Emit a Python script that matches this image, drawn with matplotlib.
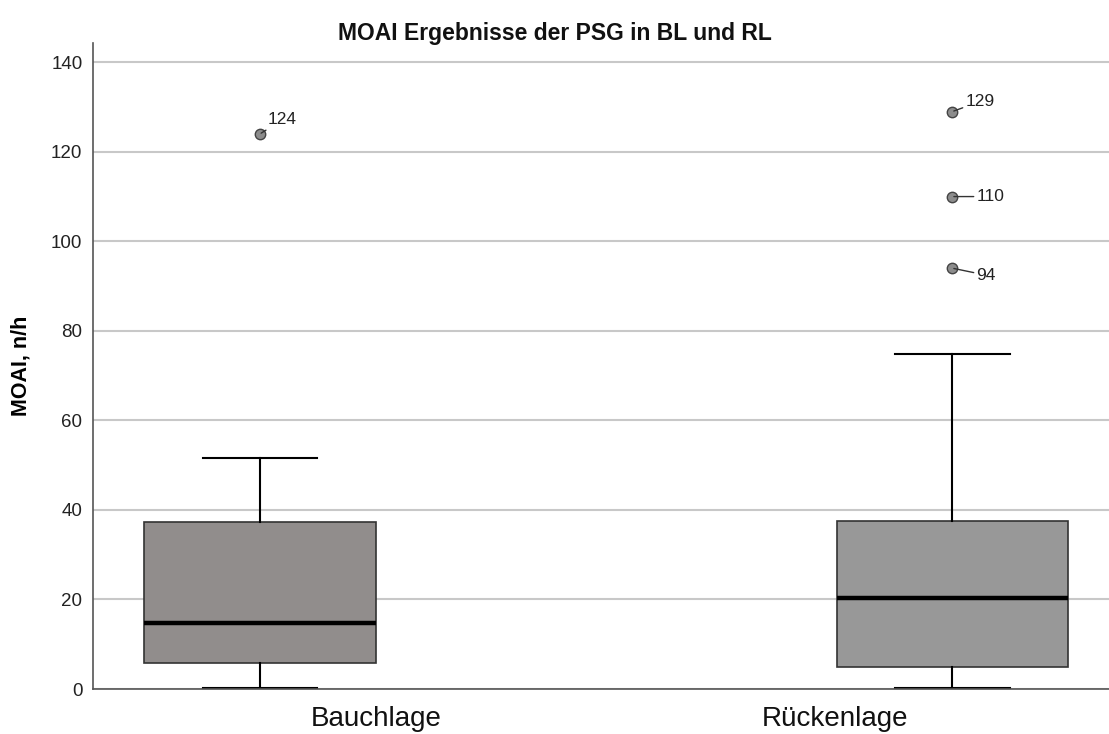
import matplotlib
matplotlib.use('Agg')
from matplotlib import pyplot as plt
from matplotlib.transforms import ScaledTranslation

plt.rcParams['font.family'] = ['Liberation Sans', 'DejaVu Sans']

# Kennwerte der Boxplots (MOAI, n/h)
lagen = ['Bauchlage', 'Rückenlage']
q1 = [5.7, 4.9]
median = [14.8, 20.3]
q3 = [37.2, 37.5]
whis_lo = [0.2, 0.2]
whis_hi = [51.7, 74.8]
ausreisser = [[124], [129, 110, 94]]
box_farben = ['#918d8c', '#989898']

stats = []
for i in range(len(lagen)):
    stats.append({'q1': q1[i], 'med': median[i], 'q3': q3[i],
                  'whislo': whis_lo[i], 'whishi': whis_hi[i],
                  'fliers': ausreisser[i], 'label': lagen[i]})

fig = plt.figure(figsize=(11.09, 7.34), dpi=100)
ax = fig.add_axes([0.0843, 0.0613, 0.9157, 0.8801])

pos = [1, 2]
bp = ax.bxp(stats, positions=pos, widths=0.334, patch_artist=True,
            showfliers=True,
            boxprops={'edgecolor': '#333333', 'linewidth': 1.2},
            medianprops={'color': 'black', 'linewidth': 3.2},
            whiskerprops={'color': 'black', 'linewidth': 1.5},
            capprops={'color': 'black', 'linewidth': 1.5},
            capwidths=0.165,
            flierprops={'marker': 'o', 'markersize': 7.5,
                        'markerfacecolor': '#8c8c8c',
                        'markeredgecolor': '#444444', 'markeredgewidth': 1.0})
for patch, c in zip(bp['boxes'], box_farben):
    patch.set_facecolor(c)
for cap in bp['caps']:
    cap.set_clip_on(False)

# Beschriftung der Ausreisser mit kurzer Verbindungslinie
versatz = {124: (8, 14), 129: (13, 10), 110: (24, 0), 94: (24, -7)}
for x, werte in zip(pos, ausreisser):
    for w in werte:
        dx, dy = versatz.get(w, (20, 0))
        ax.annotate(str(w), xy=(x, w), xytext=(dx, dy), textcoords='offset pixels',
                    fontsize=12.5, color='#222222', va='center', ha='left',
                    arrowprops={'arrowstyle': '-', 'color': '#333333', 'lw': 1.0,
                                'shrinkA': 0, 'shrinkB': 1})

ax.set_xlim(0.7596, 2.226)
ax.set_ylim(0, 144.3)
ax.set_yticks(range(0, 141, 20))
ax.yaxis.grid(True, color='#c8c8c8', linewidth=1.5)
ax.set_axisbelow(True)

# Kategorienbeschriftungen, gegenüber den Boxen seitlich versetzt
ax.set_xticks([])
for x, name, off in zip(pos, lagen, [116, -117]):
    tr = ax.get_xaxis_transform() + ScaledTranslation(off / 100, -0.30, fig.dpi_scale_trans)
    ax.text(x, 0, name, transform=tr, ha='center', va='center',
            fontsize=20, color='#111111')
ax.tick_params(axis='y', length=0, pad=8, labelsize=13.5, labelcolor='#222222')

for s in ['top', 'right']:
    ax.spines[s].set_visible(False)
for s in ['left', 'bottom']:
    ax.spines[s].set_color('#555555')
    ax.spines[s].set_linewidth(1.2)

ax.set_ylabel('MOAI, n/h', fontsize=15.5, fontweight='bold', labelpad=14)
fig.text(0.5, 0.955, 'MOAI Ergebnisse der PSG in BL und RL', ha='center', va='center',
         fontsize=16.5, fontweight='bold', color='#111111')

fig.savefig('out.png', dpi=100)
